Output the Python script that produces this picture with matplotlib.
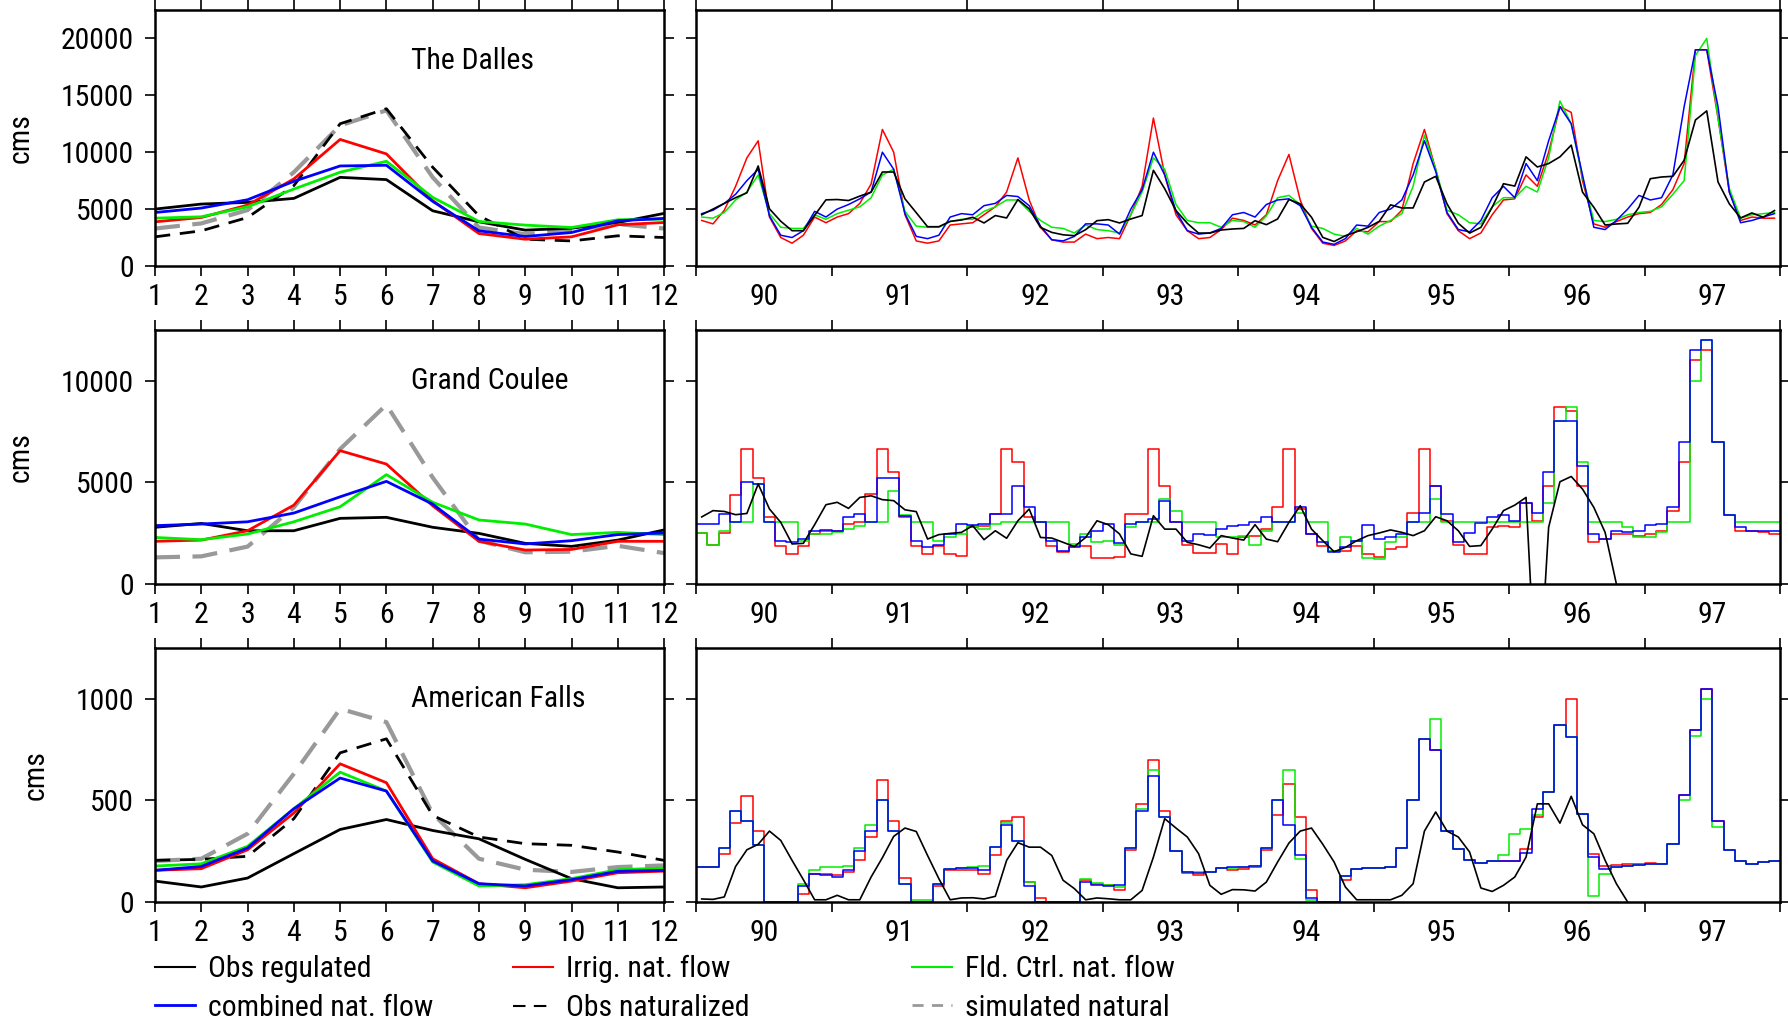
import numpy as np
import matplotlib
matplotlib.use('Agg')
import matplotlib.pyplot as plt
from matplotlib import font_manager
from matplotlib.lines import Line2D

nan = np.nan
months = np.arange(1, 13)
year_labels = ['90', '91', '92', '93', '94', '95', '96', '97']

### monthly climatology (left column)
dalles_clim_obs = [5000, 5440, 5590, 5940, 7790, 7590, 4850, 3880, 3150, 3320, 3820, 4620]
dalles_clim_irr = [3880, 4260, 5350, 7650, 11120, 9850, 5740, 2850, 2350, 2560, 3620, 3820]
dalles_clim_fld = [4200, 4320, 5200, 6760, 8240, 9200, 6030, 3910, 3590, 3380, 4060, 4120]
dalles_clim_comb = [4700, 5090, 5820, 7440, 8790, 8850, 5680, 3090, 2590, 2940, 3970, 4180]
dalles_clim_obsnat = [2560, 3090, 4260, 7060, 12500, 13820, 8680, 4410, 2350, 2200, 2650, 2500]
dalles_clim_sim = [3290, 3740, 4910, 8240, 12350, 13680, 7790, 3380, 2790, 3150, 3680, 3290]

coulee_clim_obs = [2790, 2980, 2620, 2620, 3230, 3280, 2790, 2490, 2000, 1850, 2160, 2660]
coulee_clim_irr = [2100, 2160, 2620, 3880, 6560, 5900, 3850, 2100, 1670, 1700, 2100, 2100]
coulee_clim_fld = [2290, 2180, 2460, 3060, 3800, 5380, 4020, 3150, 2950, 2430, 2540, 2430]
coulee_clim_comb = [2870, 2950, 3060, 3490, 4290, 5050, 3930, 2210, 1970, 2130, 2430, 2510]
coulee_clim_sim = [1310, 1360, 1840, 3770, 6640, 8820, 5240, 2130, 1560, 1590, 1880, 1520]

falls_clim_obs = [103, 74, 118, 238, 357, 406, 352, 311, 210, 115, 70, 74]
falls_clim_irr = [156, 164, 257, 438, 680, 587, 213, 90, 70, 103, 144, 152]
falls_clim_fld = [177, 188, 274, 459, 639, 546, 197, 79, 85, 115, 159, 167]
falls_clim_comb = [156, 175, 266, 459, 610, 546, 202, 90, 79, 110, 151, 156]
falls_clim_obsnat = [205, 210, 225, 410, 734, 803, 426, 320, 287, 279, 246, 205]
falls_clim_sim = [202, 213, 336, 631, 951, 885, 434, 213, 159, 148, 172, 180]

### monthly series 1990-1997 (right column)
dalles_obs = [4500, 5000, 5500, 6000, 6430, 8790, 5020, 3930, 3100, 3100, 4450, 5810,
              5840, 5750, 6140, 6490, 8260, 8260, 5900, 4680, 3450, 3450, 3920, 4040,
              4280, 3780, 4430, 4220, 5840, 5020, 3390, 2950, 2740, 2660, 3190, 3980,
              4070, 3780, 4130, 4430, 8410, 6790, 4870, 3750, 2890, 2890, 3160, 3250,
              3300, 3980, 3630, 4130, 5840, 5460, 4280, 2510, 2150, 2660, 3010, 3390,
              3920, 5370, 5100, 5100, 7380, 7880, 5460, 3750, 2890, 3390, 5160, 7230,
              7020, 9590, 8700, 9000, 9590, 10620, 6490, 5160, 3600, 3690, 3750, 5160,
              7670, 7820, 7880, 9290, 12830, 13630, 7380, 5460, 4220, 4660, 4280, 4870]
dalles_irr = [4000, 3700, 4900, 7000, 9500, 11000, 4300, 2500, 2000, 2700, 4300, 3800,
              4300, 4600, 5500, 7200, 12000, 10000, 4500, 2200, 2000, 2200, 3600, 3700,
              3800, 4500, 5200, 6500, 9500, 5800, 3400, 2300, 2100, 2100, 2800, 2400,
              2500, 2400, 4500, 7000, 13000, 8000, 4500, 3100, 2400, 2500, 3200, 4200,
              4000, 3600, 4500, 7500, 9800, 5800, 3300, 2000, 1800, 2200, 3100, 3000,
              3900, 3900, 4900, 9000, 12000, 8500, 4600, 3100, 2400, 2900, 4500, 5800,
              5900, 8000, 7000, 10000, 14000, 13500, 7500, 3700, 3400, 3900, 4300, 4600,
              4700, 5400, 6700, 9000, 19000, 19000, 13000, 6500, 4000, 4300, 4200, 4200]
dalles_fld = [4300, 4200, 4700, 5800, 6500, 8000, 4600, 3400, 3300, 3300, 4500, 4100,
              4600, 4900, 5200, 6000, 8000, 8500, 4800, 3500, 3400, 3400, 3900, 4100,
              4100, 4800, 5200, 5800, 5800, 4800, 4000, 3400, 3300, 2900, 3600, 3200,
              3100, 2900, 4500, 6500, 9500, 8500, 5400, 4000, 3800, 3800, 3400, 4000,
              3900, 3400, 4400, 6000, 6200, 5400, 3500, 3300, 2800, 2600, 3300, 2800,
              3500, 4000, 4600, 7000, 11500, 8500, 4900, 4500, 3800, 3700, 5200, 6000,
              6000, 7000, 6500, 9500, 14500, 12500, 7800, 4000, 3900, 4100, 4500, 4700,
              4800, 5200, 6300, 7500, 18500, 20000, 13000, 6800, 4200, 4500, 4600, 4700]
dalles_comb = [4600, 4900, 5500, 6300, 7500, 8500, 4400, 2700, 2500, 3100, 4800, 4300,
               5000, 5400, 5900, 6500, 10000, 8500, 4600, 2600, 2400, 2700, 4300, 4600,
               4500, 5300, 5500, 6200, 6100, 5300, 3500, 2300, 2200, 2600, 3700, 3700,
               3600, 2800, 5000, 6700, 10000, 8000, 4800, 3100, 2800, 2900, 3300, 4500,
               4700, 4300, 5400, 5800, 5900, 5300, 3400, 2100, 1900, 2400, 3600, 3500,
               4700, 5000, 5800, 8000, 11000, 8300, 4700, 3200, 3000, 4000, 6000, 7000,
               6000, 9000, 7500, 11000, 14000, 12500, 8000, 3400, 3200, 4000, 5000, 6200,
               5800, 6000, 8000, 14000, 19000, 19000, 14000, 6500, 3800, 4000, 4300, 4600]

coulee_obs = [3300, 3610, 3570, 3410, 3470, 4920, 3690, 3030, 1970, 2000, 2920, 3900,
              4020, 3720, 4260, 4340, 4150, 4100, 3650, 3560, 2210, 2430, 2490, 2540,
              2870, 2180, 2620, 2250, 3110, 3690, 2290, 2260, 2050, 1840, 2290, 3110,
              2920, 2460, 1480, 1360, 3360, 2700, 2700, 2050, 1930, 1770, 2380, 2260,
              2160, 2920, 2210, 2080, 3030, 3850, 2700, 2130, 1590, 1800, 2130, 2380,
              2510, 2660, 2540, 2380, 2620, 3310, 3110, 2620, 1850, 1890, 2700, 3610,
              3880, 4260, -6500, 2790, 5030, 5290, 4670, 3770, 2540, 0, nan, nan,
              nan, nan, nan, nan, nan, nan, nan, nan, nan, nan, nan, nan]
coulee_irr = [2500, 1900, 2500, 4400, 6640, 5200, 3300, 1880, 1470, 1850, 2460, 2620,
              2620, 2950, 3030, 4430, 6640, 5500, 3300, 1880, 1470, 1850, 1500, 1400,
              2790, 2870, 3440, 6640, 6000, 3300, 3030, 1880, 1560, 1850, 1850, 1280,
              1300, 1340, 3440, 3440, 6640, 4800, 3030, 1930, 1520, 1520, 1970, 1500,
              2290, 2380, 2700, 3800, 6640, 3700, 2460, 1880, 1640, 1640, 1880, 1470,
              1310, 1720, 1800, 3470, 6640, 4800, 3110, 1930, 1470, 1470, 2790, 2870,
              2790, 4000, 3110, 4800, 8690, 8500, 4800, 2050, 2210, 2460, 2460, 2380,
              2460, 2620, 3610, 6000, 11000, 11500, 7000, 3400, 2600, 2600, 2540, 2460]
coulee_fld = [2500, 1900, 2600, 3030, 3030, 4900, 3030, 3030, 3030, 2130, 2460, 2460,
              2540, 2700, 2870, 3030, 3030, 4600, 3400, 3030, 3030, 2130, 2300, 2460,
              2870, 2700, 2950, 3030, 3030, 3030, 3030, 3030, 3030, 1970, 2460, 2050,
              2130, 1900, 2800, 3030, 3030, 4200, 3600, 3030, 3030, 3030, 2290, 2290,
              2380, 1900, 2600, 3030, 3030, 3500, 3030, 3030, 1600, 2290, 2130, 1300,
              1230, 2050, 2290, 3030, 3030, 4200, 3030, 3030, 3030, 3030, 3030, 3030,
              3030, 3030, 3030, 4000, 8000, 8700, 6000, 3030, 3030, 3030, 2800, 2290,
              2330, 2540, 3030, 3030, 10000, 12000, 7000, 3400, 3030, 3030, 3030, 3030]
coulee_comb = [2950, 2950, 3440, 3030, 5000, 4900, 3030, 2130, 2050, 2200, 2620, 2650,
               2620, 3300, 3440, 3030, 5200, 5200, 3360, 2130, 1840, 1930, 2460, 2950,
               2920, 2950, 3440, 3440, 4800, 3800, 3030, 2100, 1640, 1840, 2290, 2600,
               2950, 2000, 2950, 3030, 3200, 4100, 3030, 2130, 2460, 2400, 2700, 2850,
               2920, 3030, 3300, 3030, 3030, 3800, 2460, 2050, 1560, 1800, 2130, 2920,
               2200, 2290, 2460, 3030, 3500, 4800, 3440, 2050, 2500, 3000, 3300, 3400,
               3110, 4000, 3500, 5500, 8000, 8000, 5800, 2460, 2210, 2620, 2540, 2620,
               2920, 2950, 3800, 7000, 11500, 12000, 7000, 3400, 2800, 2600, 2620, 2620]

falls_obs = [15, 13, 25, 175, 257, 284, 349, 303, 205, 110, 11, 11,
             33, 11, 11, 123, 218, 323, 364, 347, 229, 115, 11, 20,
             21, 15, 28, 205, 292, 270, 270, 229, 107, 66, 11, 20,
             16, 11, 11, 57, 221, 410, 364, 320, 238, 82, 38, 61,
             60, 54, 98, 197, 290, 349, 364, 284, 197, 74, 11, 11,
             11, 11, 33, 90, 349, 443, 349, 320, 246, 69, 52, 82,
             123, 221, 483, 483, 388, 520, 380, 336, 205, 90, 0, nan,
             nan, nan, nan, nan, nan, nan, nan, nan, nan, nan, nan, nan]
falls_irr = [170, 172, 235, 390, 520, 350, 0, 0, 0, 40, 140, 139,
             131, 150, 205, 320, 600, 400, 120, 0, 0, 80, 156, 156,
             156, 139, 230, 400, 420, 100, 20, 0, 0, 0, 107, 90,
             82, 57, 254, 480, 700, 450, 250, 145, 131, 148, 167, 159,
             161, 172, 257, 430, 580, 420, 60, 0, 0, 110, 164, 167,
             169, 172, 267, 500, 800, 746, 350, 262, 205, 192, 200, 200,
             200, 260, 420, 541, 869, 1000, 434, 235, 175, 184, 185, 188,
             192, 188, 284, 525, 844, 1050, 400, 257, 202, 185, 197, 200]
falls_fld = [170, 172, 267, 450, 400, 280, 0, 0, 0, 90, 160, 172,
             172, 175, 267, 380, 500, 350, 90, 8, 8, 90, 164, 167,
             172, 175, 270, 390, 300, 100, 0, 0, 0, 0, 115, 93,
             82, 74, 267, 460, 650, 420, 250, 150, 148, 148, 167, 167,
             172, 175, 267, 500, 650, 210, 10, 0, 0, 130, 164, 167,
             169, 172, 267, 500, 800, 900, 350, 262, 205, 192, 200, 230,
             336, 360, 430, 541, 869, 811, 434, 30, 139, 172, 175, 180,
             185, 188, 284, 500, 815, 1000, 370, 257, 202, 185, 197, 200]
falls_comb = [170, 172, 267, 450, 400, 280, 0, 0, 0, 80, 140, 131,
              123, 160, 250, 350, 500, 350, 90, 0, 0, 90, 164, 167,
              167, 160, 270, 380, 300, 80, 0, 0, 0, 0, 98, 82,
              77, 82, 267, 450, 620, 420, 250, 150, 145, 148, 167, 172,
              172, 175, 267, 500, 380, 230, 20, 0, 0, 130, 164, 167,
              169, 172, 267, 500, 800, 746, 350, 262, 205, 192, 200, 200,
              200, 240, 460, 541, 869, 811, 434, 220, 164, 172, 175, 180,
              185, 188, 284, 525, 844, 1050, 400, 257, 202, 185, 197, 200]

GRAY = '#999999'
GREEN = '#00ee00'


def pick_narrow_font():
    # the original uses a narrow Helvetica; take a condensed face if one is installed
    fonts = font_manager.fontManager.ttflist
    for f in fonts:
        if f.name == 'Liberation Sans Narrow' and f.style == 'normal' and f.weight == 400:
            return f.name, f.stretch
    for fam in ('Noto Sans', 'Open Sans', 'Roboto', 'DejaVu Sans', 'Liberation Sans'):
        for f in fonts:
            if (f.name.startswith(fam) and 'CJK' not in f.name and 'Mono' not in f.name
                    and f.style == 'normal' and f.weight == 400
                    and ('Condensed' in f.name or 'Narrow' in f.name
                         or f.stretch in ('condensed', 'semi-condensed'))):
                return f.name, f.stretch
    return 'Liberation Sans', 'normal'


font_name, font_stretch = pick_narrow_font()
plt.rcParams['font.family'] = [font_name, 'DejaVu Sans']
plt.rcParams['font.stretch'] = font_stretch

fig = plt.figure(figsize=(17.88, 10.19), dpi=100)

# size the font so a title is as wide as in the original (about 123 px)
probe = fig.text(0, 0, 'The Dalles', fontsize=20)
probe_w = probe.get_window_extent(fig.canvas.get_renderer()).width
probe.remove()
fs = 20 * 123 / probe_w
fs_px = fs * 100 / 72
plt.rcParams['font.size'] = fs

stations = [
    dict(name='The Dalles', ymax=22500, yticks=[0, 5000, 10000, 15000, 20000],
         clim=(dalles_clim_obs, dalles_clim_irr, dalles_clim_fld, dalles_clim_comb,
               dalles_clim_obsnat, dalles_clim_sim),
         ts=(dalles_obs, dalles_irr, dalles_fld, dalles_comb), steps=False),
    dict(name='Grand Coulee', ymax=12500, yticks=[0, 5000, 10000],
         clim=(coulee_clim_obs, coulee_clim_irr, coulee_clim_fld, coulee_clim_comb,
               None, coulee_clim_sim),
         ts=(coulee_obs, coulee_irr, coulee_fld, coulee_comb), steps=True),
    dict(name='American Falls', ymax=1250, yticks=[0, 500, 1000],
         clim=(falls_clim_obs, falls_clim_irr, falls_clim_fld, falls_clim_comb,
               falls_clim_obsnat, falls_clim_sim),
         ts=(falls_obs, falls_irr, falls_fld, falls_comb), steps=True),
]

rows = [(0.739, 0.2512), (0.4269, 0.2493), (0.1148, 0.2493)]

t_mid = 1990 + (np.arange(96) + 0.5) / 12
t_edge = 1990 + np.arange(97) / 12

for st, (bottom, height) in zip(stations, rows):
    axl = fig.add_axes([0.0867, bottom, 0.2847, height])
    axr = fig.add_axes([0.3893, bottom, 0.6063, height])

    obs, irr, fld, comb, obsnat, sim = st['clim']
    if sim is not None:
        axl.plot(months, sim, color=GRAY, lw=3, dashes=(6, 3))
    if obsnat is not None:
        axl.plot(months, obsnat, color='k', lw=2, dashes=(5.5, 3.5))
    axl.plot(months, obs, color='k', lw=2)
    axl.plot(months, irr, color='r', lw=2)
    axl.plot(months, fld, color=GREEN, lw=2)
    axl.plot(months, comb, color='b', lw=2)
    axl.text(0.502, 0.8, st['name'], transform=axl.transAxes, ha='left', va='center')

    axl.set_xlim(1, 12)
    axl.set_xticks(months)
    axl.set_ylim(0, st['ymax'])
    axl.set_yticks(st['yticks'])
    axl.set_ylabel('cms', labelpad=19)

    tobs, tirr, tfld, tcomb = st['ts']
    for vals, col in ((tirr, 'r'), (tfld, GREEN), (tcomb, 'b')):
        if st['steps']:
            axr.step(t_edge, np.append(vals, vals[-1]), where='post', color=col, lw=1.1)
        else:
            axr.plot(t_mid, vals, color=col, lw=1.1)
    axr.plot(t_mid, tobs, color='k', lw=1.2)

    axr.set_xlim(1990, 1998)
    axr.set_xticks(np.arange(1990, 1999))
    axr.set_xticklabels([])
    axr.set_xticks(np.arange(1990.5, 1998), labels=year_labels, minor=True)
    axr.tick_params(axis='x', which='minor', length=0, pad=12.5)
    axr.set_ylim(0, st['ymax'])
    axr.set_yticks(st['yticks'])
    axr.set_yticklabels([])

    for ax in (axl, axr):
        ax.tick_params(which='major', direction='out', length=7, width=1.2,
                       top=True, right=True, pad=8)
        ax.tick_params(axis='x', which='major', pad=5.5)
        for s in ax.spines.values():
            s.set_linewidth(1.8)

# legend in three columns under the panels
h_obs = Line2D([], [], color='k', lw=1.5)
h_irr = Line2D([], [], color='r', lw=1.5)
h_fld = Line2D([], [], color=GREEN, lw=1.5)
h_comb = Line2D([], [], color='b', lw=2)
h_obsnat = Line2D([], [], color='k', lw=1.5, dashes=(6, 4))
h_sim = Line2D([], [], color=GRAY, lw=2, dashes=(4, 3))

columns = [
    (0.0867, [h_obs, h_comb], ['Obs regulated', 'combined nat. flow']),
    (0.287, [h_irr, h_obsnat], ['Irrig. nat. flow', 'Obs naturalized']),
    (0.510, [h_fld, h_sim], ['Fld. Ctrl. nat. flow', 'simulated natural']),
]
spacing = max(0.0, (38 - 1.15 * fs_px) / fs_px) + 7 / fs_px
for x, handles, labels in columns:
    fig.legend(handles, labels, loc='upper left', bbox_to_anchor=(x, 0.0628),
               frameon=False, borderpad=0, borderaxespad=0,
               handlelength=40 / fs_px, handletextpad=13 / fs_px,
               labelspacing=spacing)

fig.savefig('out.png', dpi=100)
